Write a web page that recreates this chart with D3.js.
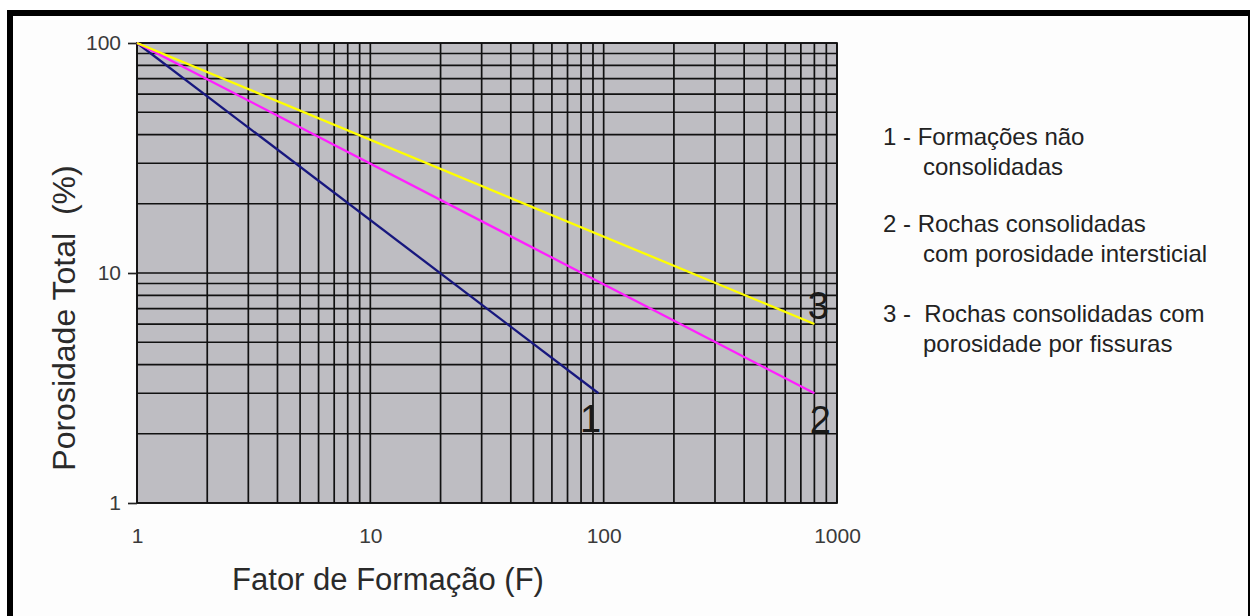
<!DOCTYPE html>
<html>
<head>
<meta charset="utf-8">
<script src="https://cdnjs.cloudflare.com/ajax/libs/d3/7.8.5/d3.min.js"></script>
<style>
  html, body { margin: 0; padding: 0; background: #ffffff; }
  svg { display: block; }
  text { font-family: "Liberation Sans", Arial, Helvetica, sans-serif; }
</style>
</head>
<body>
<svg id="chart" width="1250" height="616"></svg>
<script>
// ---- data ----
const xTickValues = [1, 10, 100, 1000];
const yTickValues = [1, 10, 100];
const xTitle = "Fator de Formação (F)";
const yTitle = "Porosidade Total\u00a0\u00a0(%)";
const seriesNames = ["1", "2", "3"];
const seriesColors = ["#17177e", "#ff1eff", "#ffff00"];
const series1F = [1, 95];
const series1Phi = [100, 3];
const series2F = [1, 800];
const series2Phi = [100, 3];
const series3F = [1, 800];
const series3Phi = [100, 6];
const legendLines = [
  ["1 - Formações não", "consolidadas"],
  ["2 - Rochas consolidadas", "com porosidade intersticial"],
  ["3 -\u00a0\u00a0Rochas consolidadas com", "porosidade por fissuras"]
];

// ---- layout ----
const W = 1250, H = 616;
const plot = { left: 137, right: 837, top: 43, bottom: 503 };
const svg = d3.select("#chart");

// white page & frame
svg.append("rect").attr("x", 0).attr("y", 0).attr("width", W).attr("height", H).attr("fill", "#ffffff");
svg.append("rect").attr("x", 13).attr("y", 16).attr("width", 1235).attr("height", H - 16).attr("fill", "#fdfdfd");
svg.append("rect").attr("x", 7).attr("y", 10).attr("width", 6).attr("height", H - 10).attr("fill", "#000");
svg.append("rect").attr("x", 7).attr("y", 10).attr("width", 1243).attr("height", 6).attr("fill", "#000");
svg.append("rect").attr("x", 1248).attr("y", 10).attr("width", 2).attr("height", H - 10).attr("fill", "#000");

const x = d3.scaleLog().domain([1, 1000]).range([plot.left, plot.right]);
const y = d3.scaleLog().domain([1, 100]).range([plot.bottom, plot.top]);

// plot background
svg.append("rect")
  .attr("x", plot.left).attr("y", plot.top)
  .attr("width", plot.right - plot.left).attr("height", plot.bottom - plot.top)
  .attr("fill", "#bebdc2");

// grid
const gridColor = "#111";
const gridW = 1.7;
const g = svg.append("g");
g.selectAll("line.vx").data(x.ticks()).join("line")
  .attr("x1", d => x(d)).attr("x2", d => x(d))
  .attr("y1", plot.top).attr("y2", plot.bottom)
  .attr("stroke", gridColor).attr("stroke-width", gridW);
g.selectAll("line.hy").data(y.ticks()).join("line")
  .attr("x1", plot.left).attr("x2", plot.right)
  .attr("y1", d => y(d)).attr("y2", d => y(d))
  .attr("stroke", gridColor).attr("stroke-width", gridW);
// plot border
svg.append("rect")
  .attr("x", plot.left).attr("y", plot.top)
  .attr("width", plot.right - plot.left).attr("height", plot.bottom - plot.top)
  .attr("fill", "none").attr("stroke", gridColor).attr("stroke-width", gridW);

// y axis ticks & labels
const yAxis = d3.axisLeft(y).tickValues(yTickValues).tickFormat(d3.format("d")).tickSize(9).tickPadding(7);
const ya = svg.append("g").attr("transform", `translate(${plot.left},0)`).call(yAxis);
ya.select(".domain").remove();
ya.selectAll(".tick line").attr("stroke", "#222").attr("stroke-width", 1.7);
ya.selectAll(".tick text").attr("font-size", 21).attr("fill", "#3a3a3a");

// x axis labels (no tick marks)
const xAxis = d3.axisBottom(x).tickValues(xTickValues).tickFormat(d3.format("d")).tickSize(0).tickPadding(25);
const xa = svg.append("g").attr("transform", `translate(0,${plot.bottom})`).call(xAxis);
xa.select(".domain").remove();
xa.selectAll(".tick text").attr("font-size", 21).attr("fill", "#3a3a3a");

// series
const allSeries = [
  { F: series1F, P: series1Phi },
  { F: series2F, P: series2Phi },
  { F: series3F, P: series3Phi }
];
const line = d3.line().x(d => x(d[0])).y(d => y(d[1]));
allSeries.forEach((s, i) => {
  const pts = s.F.map((f, k) => [f, s.P[k]]);
  svg.append("path").datum(pts)
    .attr("d", line)
    .attr("fill", "none")
    .attr("stroke", seriesColors[i])
    .attr("stroke-width", 2.3);
});

// series number labels near line ends
const labelOffsets = [[-8, 39], [6, 40], [4, -5]];
allSeries.forEach((s, i) => {
  const n = s.F.length - 1;
  svg.append("text")
    .attr("x", x(s.F[n]) + labelOffsets[i][0])
    .attr("y", y(s.P[n]) + labelOffsets[i][1])
    .attr("text-anchor", "middle")
    .attr("font-size", 38)
    .attr("fill", "#1a1a1a")
    .text(seriesNames[i]);
});

// axis titles
svg.append("text")
  .attr("x", 388).attr("y", 590)
  .attr("text-anchor", "middle")
  .attr("font-size", 31)
  .attr("fill", "#2a2a2a")
  .text(xTitle);
svg.append("text")
  .attr("transform", "translate(75,318) rotate(-90)")
  .attr("text-anchor", "middle")
  .attr("font-size", 32)
  .attr("fill", "#2a2a2a")
  .text(yTitle);

// legend text
const legendBase = [145, 232, 322];
const legendX1 = 883, legendX2 = 923;
legendLines.forEach((pair, i) => {
  svg.append("text")
    .attr("x", legendX1).attr("y", legendBase[i])
    .attr("font-size", 24).attr("fill", "#222")
    .text(pair[0]);
  svg.append("text")
    .attr("x", legendX2).attr("y", legendBase[i] + 30)
    .attr("font-size", 24).attr("fill", "#222")
    .text(pair[1]);
});
</script>
</body>
</html>
